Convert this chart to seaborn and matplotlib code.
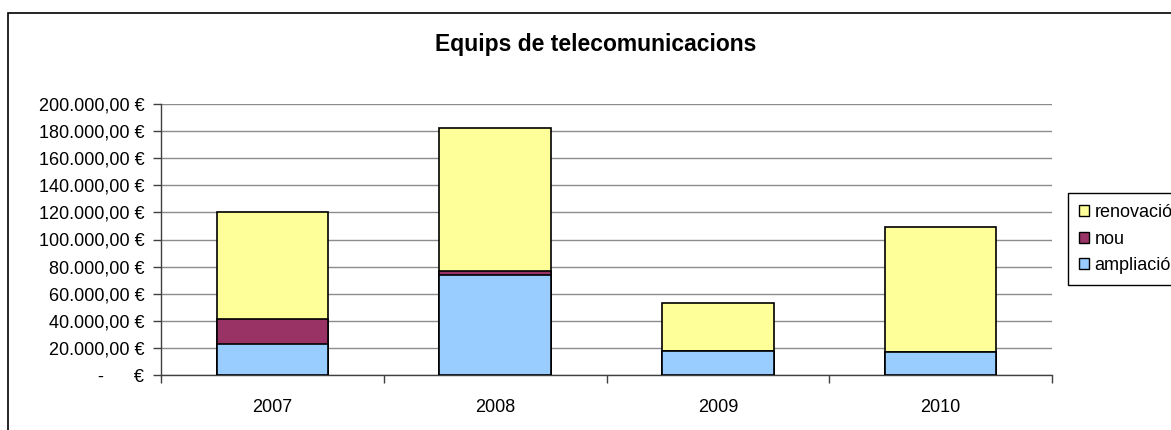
import matplotlib
matplotlib.use("Agg")
import matplotlib.pyplot as plt
from matplotlib.patches import Rectangle, Patch
from matplotlib.ticker import FixedLocator, FuncFormatter
import seaborn as sns
import pandas as pd
import numpy as np

years = ["2007", "2008", "2009", "2010"]
ampliacio = [23000, 73500, 18000, 17000]
nou = [18500, 3000, 0, 0]
renovacio = [78500, 105500, 35000, 92000]
series_names = ["renovació", "nou", "ampliació"]
colors = {"renovació": "#FFFF99", "nou": "#993366", "ampliació": "#99CCFF"}
title = "Equips de telecomunicacions"
yticks = [0, 20000, 40000, 60000, 80000, 100000, 120000, 140000, 160000, 180000, 200000]

sns.set_theme(style="white")
plt.rcParams["font.family"] = ["Liberation Sans", "DejaVu Sans"]
plt.rcParams["text.color"] = "black"

W, H = 1171, 430
fig = plt.figure(figsize=(W / 100, H / 100), dpi=100)
ax = fig.add_axes([161 / W, 1 - 375 / H, (1052 - 161) / W, (375 - 104) / H])

df = pd.DataFrame({"year": years, "ampliació": ampliacio, "nou": nou, "renovació": renovacio})
df["c_amp"] = df["ampliació"]
df["c_nou"] = df["ampliació"] + df["nou"]
df["c_ren"] = df["c_nou"] + df["renovació"]

for col, name in [("c_ren", "renovació"), ("c_nou", "nou"), ("c_amp", "ampliació")]:
    sns.barplot(data=df, x="year", y=col, color=colors[name], saturation=1,
                width=0.5, edgecolor="black", linewidth=1.2, ax=ax, zorder=3)

ax.set_xlim(-0.5, 3.5)
ax.set_ylim(0, 200000)
ax.yaxis.set_major_locator(FixedLocator(yticks))

def fmt(v, pos):
    if v == 0:
        return "-      €"
    s = f"{int(v):,}".replace(",", ".")
    return f"{s},00 €"

FS = 13
ax.yaxis.set_major_formatter(FuncFormatter(fmt))
ax.grid(axis="y", color="#8c8c8c", linewidth=1, zorder=0)
ax.set_axisbelow(True)
for s in ["top", "right"]:
    ax.spines[s].set_visible(False)
for s in ["left", "bottom"]:
    ax.spines[s].set_color("#404040")
    ax.spines[s].set_linewidth(1)
ax.set_xlabel("")
ax.set_ylabel("")
ax.tick_params(axis="y", which="major", left=True, length=6, width=1, color="#404040",
               pad=6, labelsize=FS, labelcolor="black")
ax.tick_params(axis="x", which="major", bottom=False, length=0, pad=17, labelsize=FS, labelcolor="black")
ax.xaxis.set_minor_locator(FixedLocator([-0.5, 0.5, 1.5, 2.5, 3.5]))
ax.tick_params(axis="x", which="minor", bottom=True, length=6, width=1, color="#404040")

fig.text(596 / W, 1 - 45 / H, title, ha="center", va="center", fontsize=16.5,
         fontweight="bold", color="black")

handles = [Patch(facecolor=colors[n], edgecolor="black", linewidth=1) for n in series_names]
leg = fig.legend(handles, series_names, loc="upper left",
                 bbox_to_anchor=(1068 / W, 1 - 193 / H), fontsize=FS,
                 frameon=True, fancybox=False, edgecolor="black", framealpha=1,
                 handlelength=0.55, handleheight=0.55, handletextpad=0.3,
                 labelspacing=0.52, borderpad=0.62, borderaxespad=0)
leg.get_frame().set_linewidth(1)
for t in leg.get_texts():
    t.set_color("black")

fig.patches.append(Rectangle((8 / W, -0.1), 2, (H - 13) / H + 0.1, transform=fig.transFigure,
                             fill=False, edgecolor="black", linewidth=1.2, zorder=-1))

fig.savefig("out.png", dpi=100, facecolor="white")
